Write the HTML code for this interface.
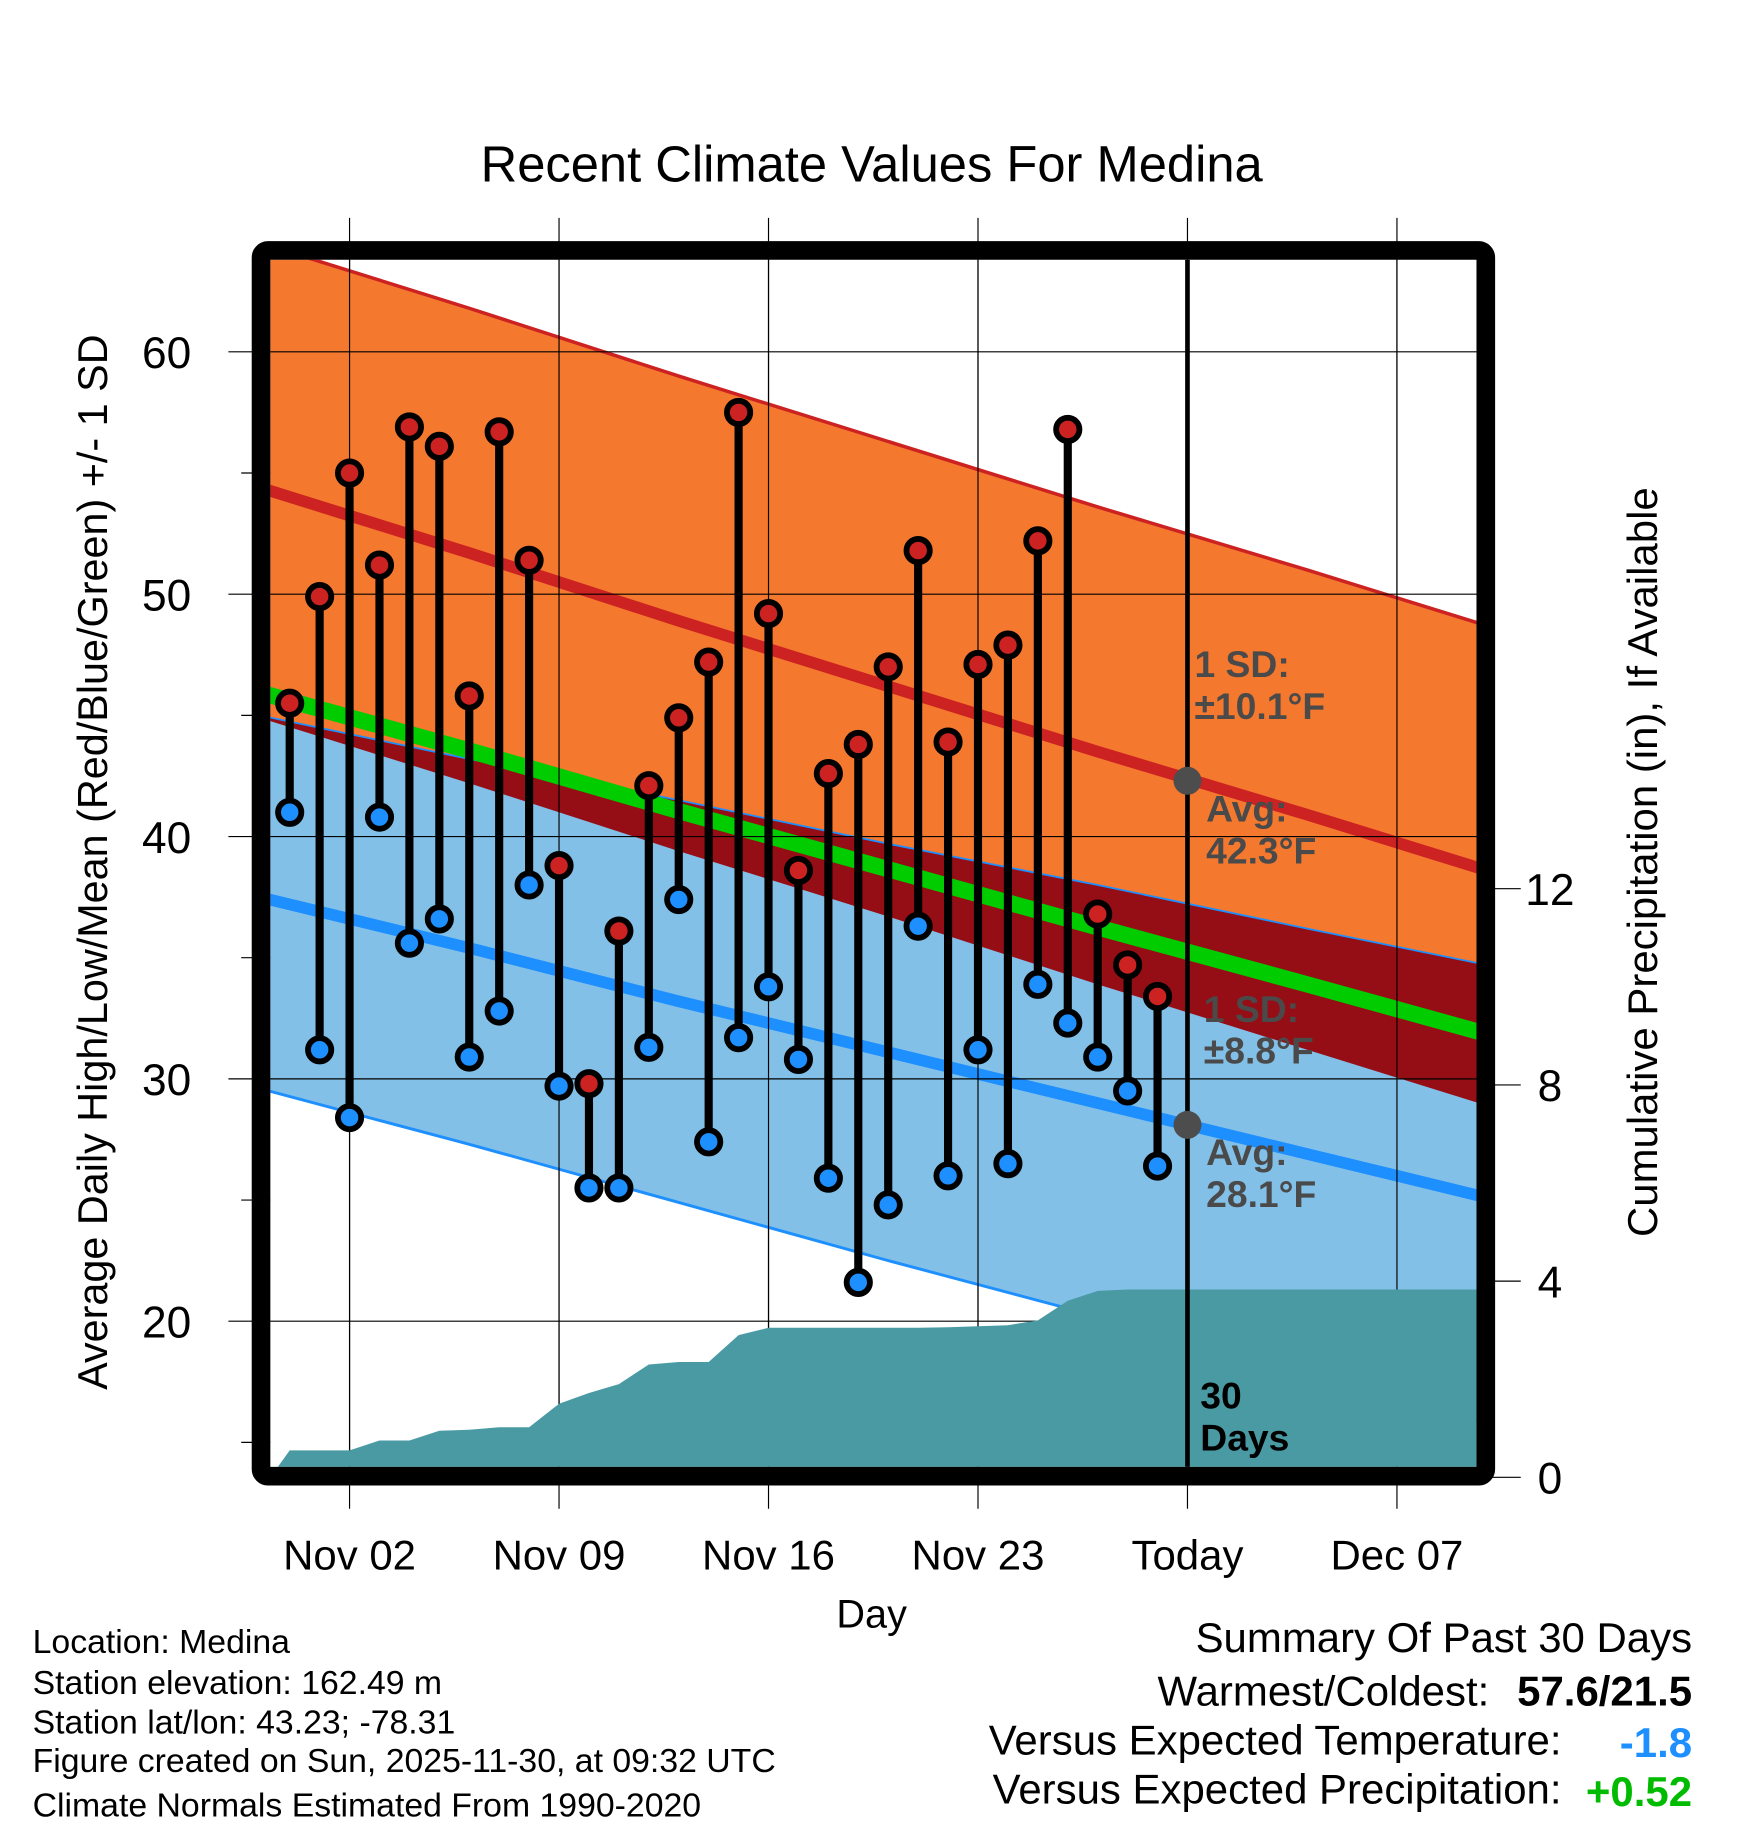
<!DOCTYPE html>
<html><head><meta charset="utf-8">
<style>
html,body{margin:0;padding:0;background:#fff;}
svg{display:block;}
text{font-family:"Liberation Sans",Arial,sans-serif;}
</style></head>
<body>
<svg id="chart" width="1748" height="1828" viewBox="0 0 1500 1569" preserveAspectRatio="none" xmlns="http://www.w3.org/2000/svg">
<defs><clipPath id="plotclip"><rect x="232" y="223" width="1035" height="1036"/></clipPath></defs>
<text x="748" y="156" font-size="43.5" text-anchor="middle">Recent Climate Values For Medina</text>
<g id="grid"></g>
<g id="plot" clip-path="url(#plotclip)"></g>
<g id="overlay"></g>
<rect x="224" y="215" width="1051" height="1052" rx="6" fill="none" stroke="#000" stroke-width="16"/>
<g id="axes"></g>
<text x="748" y="1397" font-size="34" text-anchor="middle">Day</text>
<text transform="translate(92,740) rotate(-90)" font-size="35.5" text-anchor="middle">Average Daily High/Low/Mean (Red/Blue/Green) +/- 1 SD</text>
<text transform="translate(1422,740) rotate(-90)" font-size="36" text-anchor="middle">Cumulative Precipitation (in), If Available</text>
<g font-size="29">
<text x="28" y="1419">Location: Medina</text>
<text x="28" y="1454">Station elevation: 162.49 m</text>
<text x="28" y="1488">Station lat/lon: 43.23; -78.31</text>
<text x="28" y="1521">Figure created on Sun, 2025-11-30, at 09:32 UTC</text>
<text x="28" y="1559">Climate Normals Estimated From 1990-2020</text>
</g>
<g font-size="36">
<text x="1452" y="1418" text-anchor="end">Summary Of Past 30 Days</text>
<text x="1278" y="1464" text-anchor="end">Warmest/Coldest:</text>
<text x="1452" y="1464" text-anchor="end" font-weight="bold">57.6/21.5</text>
<text x="1340" y="1506" text-anchor="end">Versus Expected Temperature:</text>
<text x="1452" y="1508" text-anchor="end" font-weight="bold" fill="#1e8fff">-1.8</text>
<text x="1340" y="1548" text-anchor="end">Versus Expected Precipitation:</text>
<text x="1452" y="1550" text-anchor="end" font-weight="bold" fill="#00bb00">+0.52</text>
</g>
</svg>
<script>
// day index 0 = Oct 31
const highs = [45.5,49.9,55.0,51.2,56.9,56.1,45.8,56.7,51.4,38.8,29.8,36.1,42.1,44.9,47.2,57.5,49.2,38.6,42.6,43.8,47.0,51.8,43.9,47.1,47.9,52.2,56.8,36.8,34.7,33.4];
const lows = [41.0,31.2,28.4,40.8,35.6,36.6,30.9,32.8,38.0,29.7,25.5,25.5,31.3,37.4,27.4,31.7,33.8,30.8,25.9,21.6,24.8,36.3,26.0,31.2,26.5,33.9,32.3,30.9,29.5,26.4];
const precip = [0.55,0.55,0.55,0.75,0.75,0.95,0.97,1.02,1.02,1.5,1.72,1.9,2.3,2.35,2.35,2.9,3.05,3.05,3.05,3.05,3.05,3.05,3.06,3.08,3.1,3.2,3.6,3.8,3.83,3.83];
const normDays = [-1,6,13,20,27,34,40];
const normHigh = [54.4,51.7,48.9,46.2,43.5,40.9,38.6];
const normLow = [37.5,35.4,33.2,31.1,29.0,26.9,25.1];
const highUpper = [64.5,61.8,59.0,56.3,53.6,51.0,48.7];
const highLower = [44.9,42.2,39.4,36.7,33.9,31.2,28.9];
const lowUpper = [45.0,43.2,41.5,39.7,38.0,36.2,34.7];
const lowLower = [29.6,27.3,24.9,22.5,20.2,17.8,15.8];
const yTicks = [20,30,40,50,60];
const yMinor = [15,25,35,45,55];
const pTicks = [0,4,8,12];
const xTickDays = [2,9,16,23,30,37];
const xTickLabels = ["Nov 02","Nov 09","Nov 16","Nov 23","Today","Dec 07"];
const todayDay = 30;
const todayHigh = 42.3, todayLow = 28.1;

const NS="http://www.w3.org/2000/svg";
const X0=232,X1=1267,Y0=223,Y1=1259;
function xs(d){return 248.6+d*25.68;}
function ys(v){return 302+(60-v)*20.8;}
function ps(p){return 1268-p*42.1;}
function mk(parent,tag,attrs){const e=document.createElementNS(NS,tag);for(const k in attrs)e.setAttribute(k,attrs[k]);parent.appendChild(e);return e;}
const plot=document.getElementById('plot'),grid=document.getElementById('grid'),axes=document.getElementById('axes'),ov=document.getElementById('overlay');
function pts(arr){return normDays.map((d,i)=>xs(d)+','+ys(arr[i])).join(' ');}
function rev(arr){return normDays.map((d,i)=>xs(d)+','+ys(arr[i])).reverse().join(' ');}
const meanArr = normHigh.map((h,i)=>(h+normLow[i])/2);

let e;
e=mk(plot,'polygon',{points:pts(highUpper)+' '+rev(highLower),fill:'#f4782e'});


e=mk(plot,'polygon',{points:pts(lowUpper)+' '+rev(lowLower),fill:'#83c0e8'});


e=mk(plot,'polygon',{points:pts(lowUpper)+' '+rev(highLower),fill:'#950e15'});


e=mk(plot,'polyline',{points:pts(lowUpper),fill:'none',stroke:'#1e8fff','stroke-width':1.5});


e=mk(plot,'polyline',{points:pts(lowLower),fill:'none',stroke:'#1e8fff','stroke-width':2.5});


e=mk(plot,'polyline',{points:pts(highUpper),fill:'none',stroke:'#cc2222','stroke-width':3});


e=mk(plot,'polyline',{points:pts(normHigh),fill:'none',stroke:'#cc2222','stroke-width':10});


e=mk(plot,'polyline',{points:pts(normLow),fill:'none',stroke:'#1e8fff','stroke-width':10});


e=mk(plot,'polyline',{points:pts(meanArr),fill:'none',stroke:'#00cc00','stroke-width':14});



xTickDays.forEach((d,i)=>{
  const g=mk(plot,'line',{x1:xs(d),x2:xs(d),y1:Y0,y2:Y1,stroke:'#000','stroke-width':1});
  
  
  const t=mk(grid,'line',{x1:xs(d),x2:xs(d),y1:187,y2:1295,stroke:'#000','stroke-width':1});
  
  
  const l=mk(axes,'text',{x:xs(d),y:1347,'font-size':36,'text-anchor':'middle'});
  l.textContent=xTickLabels[i];
  
  
});
yTicks.forEach(v=>{
  const g=mk(plot,'line',{x1:X0,x2:X1,y1:ys(v),y2:ys(v),stroke:'#000','stroke-width':1});
  
  
  const t=mk(grid,'line',{x1:196,x2:232,y1:ys(v),y2:ys(v),stroke:'#000','stroke-width':1});
  
  
  const l=mk(axes,'text',{x:143,y:ys(v)+14,'font-size':38,'text-anchor':'middle'});
  l.textContent=v;
  
  
});
yMinor.forEach(v=>{
  const t=mk(grid,'line',{x1:207,x2:232,y1:ys(v),y2:ys(v),stroke:'#000','stroke-width':1});
  
  
});
pTicks.forEach(p=>{
  const t=mk(grid,'line',{x1:1267,x2:1305,y1:ps(p),y2:ps(p),stroke:'#000','stroke-width':1});
  
  
  const l=mk(axes,'text',{x:1330,y:ps(p)+14,'font-size':38,'text-anchor':'middle'});
  l.textContent=p;
  
  
});

let pp=[X0+','+ps(0)];
precip.forEach((p,i)=>pp.push(xs(i)+','+ps(p)));
pp.push(X1+','+ps(precip[precip.length-1]));
pp.push(X1+',1270 '+X0+',1270');
e=mk(plot,'polygon',{points:pp.join(' '),fill:'#4a9aa4'});



e=mk(plot,'line',{x1:xs(todayDay),x2:xs(todayDay),y1:Y0,y2:Y1,stroke:'#000','stroke-width':4});


e=mk(plot,'circle',{cx:xs(todayDay),cy:ys(todayHigh),r:12,fill:'#4d4d4d'});


e=mk(plot,'circle',{cx:xs(todayDay),cy:ys(todayLow),r:12,fill:'#4d4d4d'});



highs.forEach((h,i)=>{
  const s=mk(plot,'line',{x1:xs(i),x2:xs(i),y1:ys(h),y2:ys(lows[i]),stroke:'#000','stroke-width':7});
  
  
});
highs.forEach((h,i)=>{
  const c=mk(plot,'circle',{cx:xs(i),cy:ys(h),r:10,fill:'#cc2222',stroke:'#000','stroke-width':5});
  
  
  const c2=mk(plot,'circle',{cx:xs(i),cy:ys(lows[i]),r:10,fill:'#1e8fff',stroke:'#000','stroke-width':5});
  
  
});

function lab(x,y,t1,t2,color,name){
  const t=mk(ov,'text',{x:x,y:y,'font-size':32,'font-weight':'bold',fill:color});
  
  
  mk(t,'tspan',{x:x}).textContent=t1;
  mk(t,'tspan',{x:x,dy:36}).textContent=t2;
}
lab(1025,581,'1 SD:','\u00b110.1\u00b0F','#4a4a4a','high-sd-label');
lab(1035,705,'Avg:',todayHigh.toFixed(1)+'\u00b0F','#4a4a4a','avg-high-label');
lab(1033,877,'1 SD:','\u00b18.8\u00b0F','#4a4a4a','low-sd-label');
lab(1035,1000,'Avg:',todayLow.toFixed(1)+'\u00b0F','#4a4a4a','avg-low-label');
lab(1030,1209,'30','Days','#000','precip-days-label');
</script>
</body></html>
